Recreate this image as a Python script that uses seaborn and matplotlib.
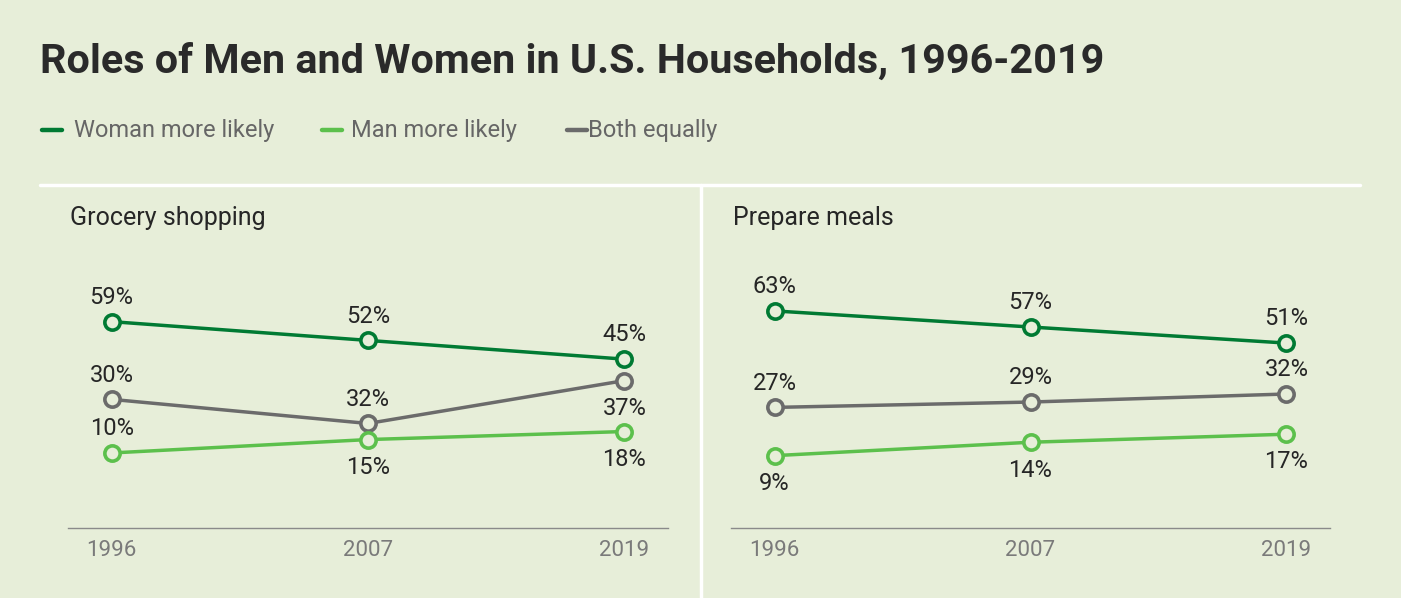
import pandas as pd
import matplotlib.pyplot as plt
import seaborn as sns
from matplotlib.lines import Line2D

# данные
years = ['1996', '2007', '2019']
series = ['Woman more likely', 'Man more likely', 'Both equally']

grocery_woman = [59, 52, 45]
grocery_man = [10, 15, 18]
grocery_both = [30, 21, 37]          # точка 2007 нарисована ниже подписи
grocery_both_labels = [30, 32, 37]

meals_woman = [63, 57, 51]
meals_man = [9, 14, 17]
meals_both = [27, 29, 32]

BG = '#E7EED9'
COLORS = {'Woman more likely': '#007A33',
          'Man more likely': '#5CC04C',
          'Both equally': '#6B6B6B'}
TEXT = '#262626'
FONT = ['Roboto', 'DejaVu Sans']

sns.set_style('white')
plt.rcParams['font.family'] = FONT

W, H = 1401, 598
fig = plt.figure(figsize=(W / 100, H / 100), dpi=100, facecolor=BG)


def px_axes(x0, x1, y_top, y_bot):
    return fig.add_axes([x0 / W, 1 - y_bot / H, (x1 - x0) / W, (y_bot - y_top) / H])


panels = [
    ('Grocery shopping', px_axes(68, 668, 260, 528),
     {'Woman more likely': (grocery_woman, grocery_woman, ['up', 'up', 'up']),
      'Man more likely': (grocery_man, grocery_man, ['up', 'down', 'down']),
      'Both equally': (grocery_both, grocery_both_labels, ['up', 'up', 'down'])}),
    ('Prepare meals', px_axes(731, 1330, 260, 528),
     {'Woman more likely': (meals_woman, meals_woman, ['up', 'up', 'up']),
      'Man more likely': (meals_man, meals_man, ['down', 'down', 'down']),
      'Both equally': (meals_both, meals_both, ['up', 'up', 'up'])}),
]

for title, ax, data in panels:
    ax.set_facecolor(BG)
    for name in ['Both equally', 'Man more likely', 'Woman more likely']:
        vals, labels, where = data[name]
        df = pd.DataFrame({'x': range(len(years)), 'y': vals})
        sns.lineplot(data=df, x='x', y='y', ax=ax, color=COLORS[name], linewidth=2.5,
                     marker='o', markersize=11, markerfacecolor=BG,
                     markeredgecolor=COLORS[name], markeredgewidth=2.6, zorder=3)
        for i, (v, lab, w) in enumerate(zip(vals, labels, where)):
            off = 17.5 if w == 'up' else -20
            ax.annotate(f'{lab}%', (i, v), xytext=(0, off), textcoords='offset points',
                        ha='center', va='center', fontsize=17, color=TEXT)
    ax.set_xlim(-0.17, 2.17)
    ax.set_ylim(-18, 82)
    ax.set_xticks(range(len(years)))
    ax.set_xticklabels(years, fontsize=16, color='#7A7A7A')
    ax.tick_params(axis='x', length=0, pad=9)
    ax.set_yticks([])
    ax.set_xlabel('')
    ax.set_ylabel('')
    for s in ['top', 'left', 'right']:
        ax.spines[s].set_visible(False)
    ax.spines['bottom'].set_color('#8A8A8A')
    ax.spines['bottom'].set_linewidth(1.0)
    fig.text(ax.get_position().x0 + 2 / W, 1 - 218 / H, title, fontsize=18,
             color=TEXT, va='center', ha='left')

# заголовок
fig.text(40 / W, 1 - 62 / H, 'Roles of Men and Women in U.S. Households, 1996-2019',
         fontsize=29.8, fontweight='bold', color='#2A2A2A', va='center', ha='left')

# легенда
leg_x = [(42, 74), (322, 351), (567, 588)]
for (lx, tx), name in zip(leg_x, series):
    fig.add_artist(Line2D([lx / W, (lx + 20) / W], [1 - 130 / H] * 2,
                          color=COLORS[name], linewidth=3.2))
    fig.text(tx / W, 1 - 130 / H, name, fontsize=17, color='#666666',
             va='center', ha='left')

# белые разделители
fig.add_artist(Line2D([40 / W, 1360 / W], [1 - 185 / H] * 2, color='white', linewidth=2.5))
fig.add_artist(Line2D([701 / W, 701 / W], [1 - 185 / H, 0], color='white', linewidth=2.5))

fig.savefig('out.png', dpi=100, facecolor=BG)
